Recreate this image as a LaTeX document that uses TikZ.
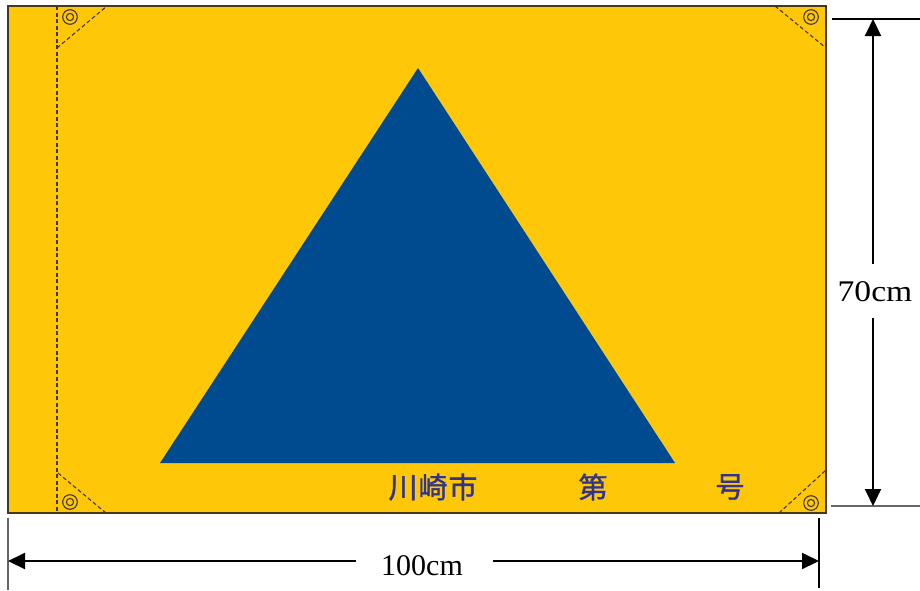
\documentclass[tikz,border=0pt]{standalone}
\usepackage{fontspec}
\setmainfont{Liberation Serif}
\newfontfamily\cjk[FakeBold=1.2]{Noto Sans CJK JP}
\usetikzlibrary{arrows.meta}
\definecolor{flagyellow}{RGB}{254,200,8}
\definecolor{flagblue}{RGB}{0,74,143}
\definecolor{textblue}{RGB}{48,52,140}
\definecolor{edge}{RGB}{70,55,30}
\tikzset{
  seam/.style={edge, line width=1.1pt, dash pattern=on 4pt off 2.5pt},
  grommet/.style={edge, line width=1.1pt},
  dimline/.style={black, line width=2pt},
  extline/.style={black!60, line width=2pt},
  dimarrow/.style={dimline, -{Triangle[length=17pt,width=16pt]}},
  dimlabel/.style={font=\fontsize{30}{30}\selectfont, inner sep=0pt, fill=white, anchor=base},
  cjklabel/.style={font=\cjk\fontsize{29}{29}\selectfont, text=textblue, inner sep=0pt}
}
\begin{document}
\begin{tikzpicture}[x=1pt,y=-1pt]
\useasboundingbox (0,0) rectangle (920,590);
% flag
\draw[fill=flagyellow, draw=edge, line width=1.4pt] (8,6) rectangle (826,513);
\draw[seam] (57,6) -- (57,513);
\draw[seam] (57,48) -- (107,6);
\draw[seam] (775,6) -- (826,48);
\draw[seam] (58,473) -- (106,513);
\draw[seam] (779,513) -- (826,470);
\foreach \p in {(70,17),(811,17),(70,502),(811,503)}{
  \draw[grommet] \p circle (7.3);
  \draw[grommet] \p circle (3.6);
}
% triangle
\fill[flagblue] (418,68) -- (675,463) -- (160,463) -- cycle;
% texts
\node[cjklabel] (city) at (433,487) {川\hspace{1pt}崎\hspace{1pt}市};
\node[cjklabel] (dai) at (593,487) {第};
\node[cjklabel] (go) at (730,487) {号};
% vertical dimension
\draw[dimline] (832,19) -- (920,19);
\draw[extline] (831,506) -- (920,506);
\coordinate (vt) at (873,19);
\coordinate (vb) at (873,506);
\node[dimlabel, xscale=1.12] (h) at (875,301.5) {70cm};
\draw[dimarrow] (873,264) -- (vt);
\draw[dimarrow] (873,318) -- (vb);
% horizontal dimension
\draw[extline] (8,518) -- (8,590);
\draw[dimline] (819,518) -- (819,588);
\coordinate (hl) at (8,561);
\coordinate (hr) at (819,561);
\node[dimlabel] (w) at (422,575) {100cm};
\draw[dimarrow] (356,561) -- (hl);
\draw[dimarrow] (493,561) -- (hr);
\end{tikzpicture}
\end{document}
